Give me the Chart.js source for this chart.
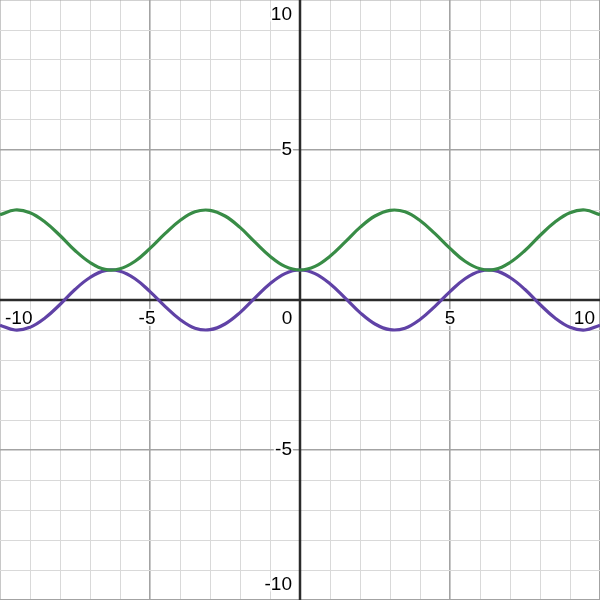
<!DOCTYPE html>
<html>
<head>
<meta charset="utf-8">
<script src="https://cdn.jsdelivr.net/npm/chart.js@4/dist/chart.umd.min.js"></script>
<style>
html,body{margin:0;padding:0;background:#fff;}
#c{display:block;}
</style>
</head>
<body>
<canvas id="c" width="600" height="600"></canvas>
<script>
const xValues = [-10,-9.5,-9,-8.5,-8,-7.5,-7,-6.5,-6,-5.5,-5,-4.5,-4,-3.5,-3,-2.5,-2,-1.5,-1,-0.5,0,0.5,1,1.5,2,2.5,3,3.5,4,4.5,5,5.5,6,6.5,7,7.5,8,8.5,9,9.5,10];
const purpleValues = [-0.84,-1.00,-0.91,-0.60,-0.15,0.35,0.75,0.98,0.96,0.71,0.28,-0.21,-0.65,-0.94,-0.99,-0.80,-0.42,0.07,0.54,0.88,1.00,0.88,0.54,0.07,-0.42,-0.80,-0.99,-0.94,-0.65,-0.21,0.28,0.71,0.96,0.98,0.75,0.35,-0.15,-0.60,-0.91,-1.00,-0.84];
const greenValues = [2.84,3.00,2.91,2.60,2.15,1.65,1.25,1.02,1.04,1.29,1.72,2.21,2.65,2.94,2.99,2.80,2.42,1.93,1.46,1.12,1.00,1.12,1.46,1.93,2.42,2.80,2.99,2.94,2.65,2.21,1.72,1.29,1.04,1.02,1.25,1.65,2.15,2.60,2.91,3.00,2.84];
const xTickValues = [-10,-5,0,5,10];
const xTickLabels = ["-10","-5","0","5","10"];
const yTickValues = [10,5,-5,-10];
const yTickLabels = ["10","5","-5","-10"];

const toPts = (ys) => xValues.map((x,i)=>({x:x,y:ys[i]}));

const axesPlugin = {
  id:'axesPlugin',
  beforeDatasetsDraw(chart){
    const ctx = chart.ctx, xs = chart.scales.x, ys = chart.scales.y;
    const a = chart.chartArea;
    ctx.save();
    ctx.strokeStyle = '#2b2b2b';
    ctx.lineWidth = 2.5;
    const x0 = xs.getPixelForValue(0), y0 = ys.getPixelForValue(0);
    ctx.beginPath(); ctx.moveTo(x0,a.top); ctx.lineTo(x0,a.bottom); ctx.stroke();
    ctx.beginPath(); ctx.moveTo(a.left,y0); ctx.lineTo(a.right,y0); ctx.stroke();
    ctx.restore();
  },
  afterDatasetsDraw(chart){
    const ctx = chart.ctx, xs = chart.scales.x, ys = chart.scales.y;
    const a = chart.chartArea;
    const x0 = xs.getPixelForValue(0), y0 = ys.getPixelForValue(0);
    ctx.save();
    ctx.font = '19px "Liberation Sans", Arial, sans-serif';
    ctx.textBaseline = 'middle';
    ctx.lineJoin = 'round';
    const draw = (t,x,y)=>{
      ctx.strokeStyle = 'rgba(255,255,255,0.9)';
      ctx.lineWidth = 4;
      ctx.strokeText(t,x,y);
      ctx.fillStyle = '#000';
      ctx.fillText(t,x,y);
    };
    // x labels
    ctx.textAlign = 'left';
    xTickValues.forEach((v,i)=>{
      const t = xTickLabels[i];
      const w = ctx.measureText(t).width;
      let cx = xs.getPixelForValue(v);
      if (v === 0) { cx = x0 - 13; }
      else if (v < 0) { cx -= 3; }
      let left = cx - w/2;
      if (left < a.left + 5) left = a.left + 5;
      if (left + w > a.right - 5) left = a.right - 5 - w;
      draw(t,left,y0+19);
    });
    // y labels
    ctx.textAlign = 'right';
    yTickValues.forEach((v,i)=>{
      const t = yTickLabels[i];
      let cy = ys.getPixelForValue(v);
      if (cy < a.top + 15) cy = a.top + 15;
      if (cy > a.bottom - 15) cy = a.bottom - 15;
      draw(t,x0-8,cy);
    });
    ctx.restore();
  }
};

const gridColor = (c)=> (c.tick && c.tick.value % 5 === 0) ? '#a3a3a3' : '#d9d9d9';
const gridWidth = (c)=> (c.tick && c.tick.value % 5 === 0) ? 1.6 : 1;

new Chart(document.getElementById('c'),{
  type:'scatter',
  data:{
    datasets:[
      {label:'purple', data:toPts(purpleValues), showLine:true, borderColor:'#6042a6', borderWidth:3.2, pointRadius:0, tension:0.4, fill:false, order:2},
      {label:'green', data:toPts(greenValues), showLine:true, borderColor:'#388c46', borderWidth:3.2, pointRadius:0, tension:0.4, fill:false, order:1}
    ]
  },
  options:{
    responsive:false,
    animation:false,
    layout:{padding:0},
    plugins:{legend:{display:false}, tooltip:{enabled:false}},
    scales:{
      x:{type:'linear', min:-10, max:10, ticks:{display:false, stepSize:1}, grid:{color:gridColor, lineWidth:gridWidth, drawTicks:false}, border:{display:false}},
      y:{type:'linear', min:-10, max:10, ticks:{display:false, stepSize:1}, grid:{color:gridColor, lineWidth:gridWidth, drawTicks:false}, border:{display:false}}
    }
  },
  plugins:[axesPlugin]
});
</script>
</body>
</html>
